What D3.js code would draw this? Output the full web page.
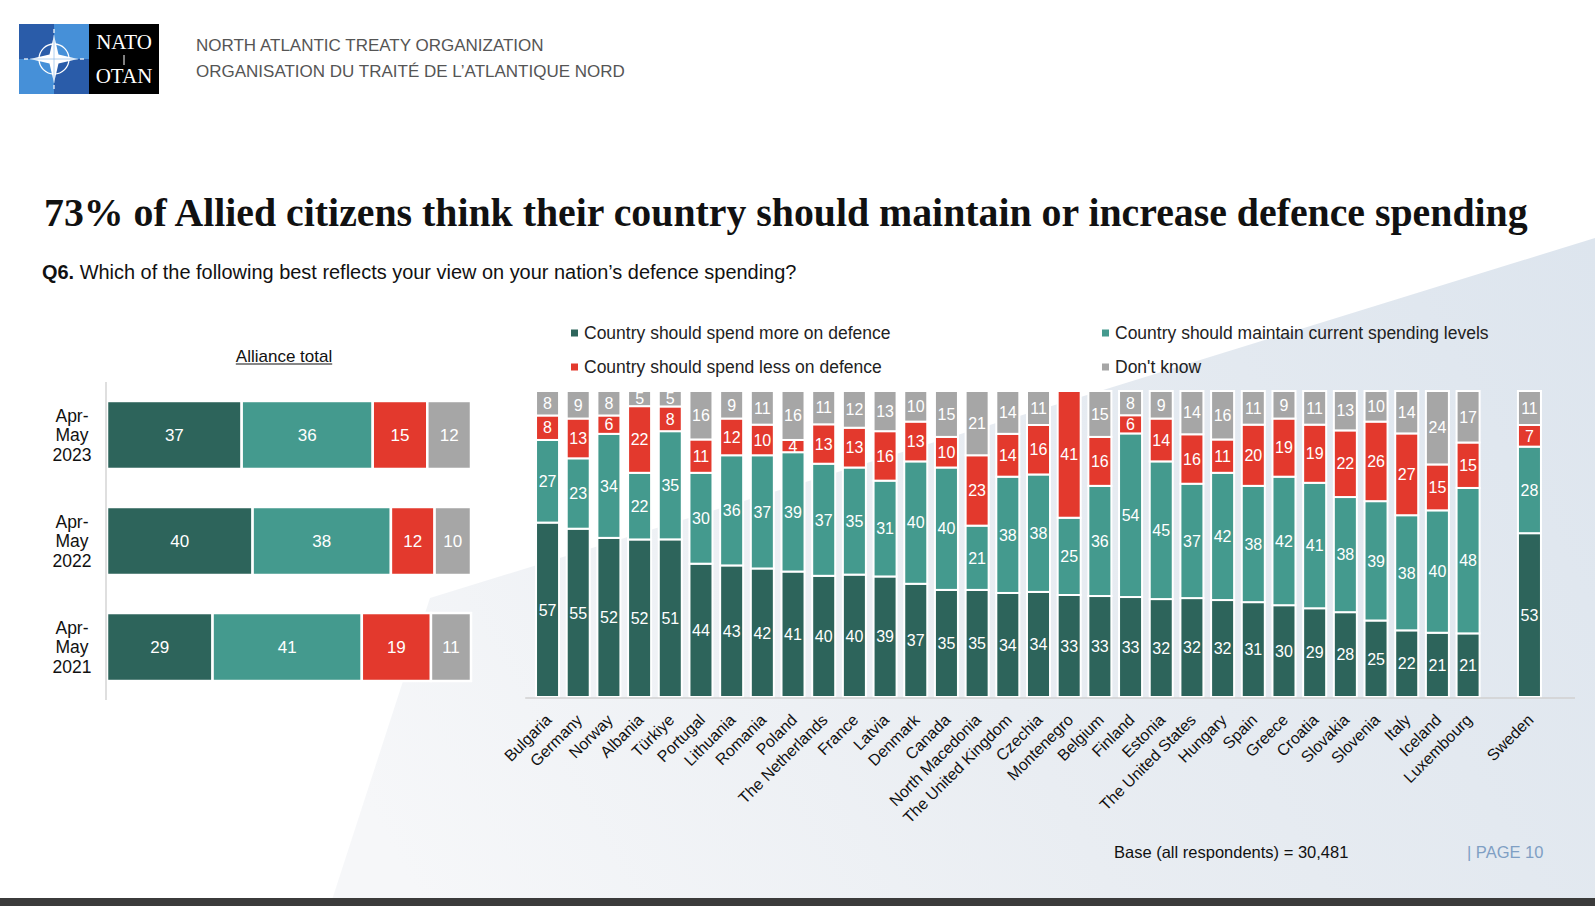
<!DOCTYPE html>
<html><head><meta charset="utf-8">
<script src="https://cdn.jsdelivr.net/npm/d3@7"></script>
<style>body{margin:0;background:#fff;} svg{display:block;}</style>
</head><body>
<svg id="c" width="1595" height="906"></svg>
<script>
// ---------------- DATA ----------------
const countries = ["Bulgaria","Germany","Norway","Albania","Türkiye","Portugal","Lithuania","Romania","Poland","The Netherlands","France","Latvia","Denmark","Canada","North Macedonia","The United Kingdom","Czechia","Montenegro","Belgium","Finland","Estonia","The United States","Hungary","Spain","Greece","Croatia","Slovakia","Slovenia","Italy","Iceland","Luxembourg","Sweden"];
const spendMore = [57,55,52,52,51,44,43,42,41,40,40,39,37,35,35,34,34,33,33,33,32,32,32,31,30,29,28,25,22,21,21,53];
const maintain  = [27,23,34,22,35,30,36,37,39,37,35,31,40,40,21,38,38,25,36,54,45,37,42,38,42,41,38,39,38,40,48,28];
const spendLess = [8,13,6,22,8,11,12,10,4,13,13,16,13,10,23,14,16,41,16,6,14,16,11,20,19,19,22,26,27,15,15,7];
const dontKnow  = [8,9,8,5,5,16,9,11,16,11,12,13,10,15,21,14,11,0,15,8,9,14,16,11,9,11,13,10,14,24,17,11];

const waves = ["Apr-|May|2023","Apr-|May|2022","Apr-|May|2021"];
const totalMore     = [37,40,29];
const totalMaintain = [36,38,41];
const totalLess     = [15,12,19];
const totalDK       = [12,10,11];

const seriesNames = ["Country should spend more on defence","Country should maintain current spending levels","Country should spend less on defence","Don't know"];
const colors = ["#2d645b","#449a8e","#e3392d","#a6a6a6"];

// ---------------- SETUP ----------------
const svg = d3.select("#c");
const defs = svg.append("defs");
const grad = defs.append("linearGradient").attr("id","bgGrad")
  .attr("gradientUnits","userSpaceOnUse").attr("x1",1595).attr("y1",240).attr("x2",420).attr("y2",900);
grad.append("stop").attr("offset","0").attr("stop-color","#dde5ee");
grad.append("stop").attr("offset","0.55").attr("stop-color","#e9edf2");
grad.append("stop").attr("offset","1").attr("stop-color","#f6f7f9");

svg.append("rect").attr("width",1595).attr("height",906).attr("fill","#ffffff");
svg.append("path").attr("d","M1595,238 L430,598 L330,906 L1595,906 Z").attr("fill","url(#bgGrad)");
svg.append("rect").attr("x",0).attr("y",898).attr("width",1595).attr("height",8).attr("fill","#3b3b3b");

// ---------------- LOGO ----------------
const logo = svg.append("g");
logo.append("rect").attr("x",19).attr("y",24).attr("width",35).attr("height",35).attr("fill","#2a5ca9");
logo.append("rect").attr("x",54).attr("y",24).attr("width",35).attr("height",35).attr("fill","#4690d8");
logo.append("rect").attr("x",19).attr("y",59).attr("width",35).attr("height",35).attr("fill","#4690d8");
logo.append("rect").attr("x",54).attr("y",59).attr("width",35).attr("height",35).attr("fill","#2a5ca9");
logo.append("rect").attr("x",89).attr("y",24).attr("width",70).attr("height",70).attr("fill","#000");
logo.append("circle").attr("cx",54).attr("cy",59).attr("r",15).attr("fill","none").attr("stroke","#fff").attr("stroke-width",1.3);
logo.append("path").attr("d","M54,35 L58.5,54.5 L78,59 L58.5,63.5 L54,83 L49.5,63.5 L30,59 L49.5,54.5 Z").attr("fill","#fff");
logo.append("path").attr("d","M54,35 L54,83 M30,59 L78,59").attr("stroke","#9cc3ea").attr("stroke-width",0.8);
[[54,29,54,33],[54,85,54,89],[24,59,28,59],[80,59,84,59]].forEach(l=>
  logo.append("line").attr("x1",l[0]).attr("y1",l[1]).attr("x2",l[2]).attr("y2",l[3]).attr("stroke","#fff").attr("stroke-width",1.2));
logo.append("text").attr("x",124).attr("y",49).attr("text-anchor","middle").attr("fill","#fff")
  .attr("font-family","Liberation Serif").attr("font-size",21).text("NATO");
logo.append("text").attr("x",124).attr("y",83).attr("text-anchor","middle").attr("fill","#fff")
  .attr("font-family","Liberation Serif").attr("font-size",21).text("OTAN");
logo.append("line").attr("x1",124).attr("x2",124).attr("y1",55).attr("y2",65).attr("stroke","#fff").attr("stroke-width",1);

svg.append("text").attr("x",196).attr("y",51).attr("fill","#555").attr("font-family","Liberation Sans").attr("font-size",17)
  .text("NORTH ATLANTIC TREATY ORGANIZATION");
svg.append("text").attr("x",196).attr("y",77).attr("fill","#555").attr("font-family","Liberation Sans").attr("font-size",17)
  .text("ORGANISATION DU TRAITÉ DE L’ATLANTIQUE NORD");

// ---------------- TITLE ----------------
const title = svg.append("text").attr("x",44).attr("y",226).attr("fill","#111")
  .attr("font-family","Liberation Serif").attr("font-weight","bold").attr("font-size",38)
  .text("73% of Allied citizens think their country should maintain or increase defence spending");
const tl = title.node().getComputedTextLength();
title.attr("font-size", Math.min(40, 38*1484/tl));

const sub = svg.append("text").attr("x",42).attr("y",279).attr("fill","#111")
  .attr("font-family","Liberation Sans").attr("font-size",18);
sub.append("tspan").attr("font-weight","bold").text("Q6.");
sub.append("tspan").text(" Which of the following best reflects your view on your nation’s defence spending?");
const sl = sub.node().getComputedTextLength();
sub.attr("font-size", 18*755/sl);

// ---------------- LEGEND ----------------
const legPos = [[575,333],[1106,333],[575,367],[1106,367]];
seriesNames.forEach((n,i)=>{
  const g = svg.append("g").attr("transform",`translate(${legPos[i][0]},${legPos[i][1]})`);
  g.append("rect").attr("x",-4).attr("y",-3.5).attr("width",7).attr("height",7).attr("fill",colors[i]);
  g.append("text").attr("x",9).attr("y",6).attr("font-family","Liberation Sans").attr("font-size",17.5).attr("fill","#222").text(n);
});

// ---------------- LEFT CHART ----------------
const leftRows = waves.map((w,i)=>({key:w, 0:totalMore[i], 1:totalMaintain[i], 2:totalLess[i], 3:totalDK[i]}));
const xL = d3.scaleLinear().domain([0,100]).range([107,471]);
const yL = d3.scaleBand().domain(waves).range([382,700]).paddingInner(0.3585).paddingOuter(0.179);
const stackL = d3.stack().keys([0,1,2,3])(leftRows);
const gL = svg.append("g");
stackL.forEach((s,si)=>{
  s.forEach(d=>{
    gL.append("rect").attr("x",xL(d[0])).attr("y",yL(d.data.key)).attr("width",xL(d[1])-xL(d[0])).attr("height",yL.bandwidth())
      .attr("fill",colors[si]).attr("stroke","#fff").attr("stroke-width",2.5);
    gL.append("text").attr("x",(xL(d[0])+xL(d[1]))/2).attr("y",yL(d.data.key)+yL.bandwidth()/2).attr("dy","0.35em")
      .attr("text-anchor","middle").attr("fill","#fff").attr("font-family","Liberation Sans").attr("font-size",17)
      .text(d[1]-d[0]);
  });
});
gL.append("line").attr("x1",xL(0)-1).attr("x2",xL(0)-1).attr("y1",yL.range()[0]).attr("y2",yL.range()[1]).attr("stroke","#d4d4d4").attr("stroke-width",1.5);
waves.forEach(w=>{
  const t = gL.append("text").attr("text-anchor","middle").attr("font-family","Liberation Sans").attr("font-size",17.5).attr("fill","#111");
  w.split("|").forEach((p,i)=>{
    t.append("tspan").attr("x",72).attr("y",yL(w)+yL.bandwidth()/2 + (i-1)*19.5).attr("dy","0.35em").text(p);
  });
});
const at = svg.append("text").attr("x",(xL(0)+xL(100))/2+ -5).attr("y",356).attr("dy","0.35em").attr("text-anchor","middle")
  .attr("font-family","Liberation Sans").attr("font-size",17).attr("fill","#111").text("Alliance total");
const atl = at.node().getComputedTextLength();
svg.append("line").attr("x1",(xL(0)+xL(100))/2-5-atl/2).attr("x2",(xL(0)+xL(100))/2-5+atl/2).attr("y1",364).attr("y2",364)
  .attr("stroke","#111").attr("stroke-width",1.2);

// ---------------- RIGHT CHART ----------------
const rows = countries.map((c,i)=>({key:c, 0:spendMore[i], 1:maintain[i], 2:spendLess[i], 3:dontKnow[i]}));
const domainR = countries.slice(0,-1).concat(["__gap__"], countries.slice(-1));
const xR = d3.scaleBand().domain(domainR).range([532.2,1544.8]).paddingInner(0.25).paddingOuter(0.125);
const yR = d3.scaleLinear().domain([0,1]).range([697,391]);
const stackR = d3.stack().keys([0,1,2,3]).offset(d3.stackOffsetExpand)(rows);
const gR = svg.append("g");
stackR.forEach((s,si)=>{
  s.forEach(d=>{
    const v = d.data[si];
    if (v<=0) return;
    gR.append("rect").attr("x",xR(d.data.key)).attr("y",yR(d[1])).attr("width",xR.bandwidth()).attr("height",yR(d[0])-yR(d[1]))
      .attr("fill",colors[si]).attr("stroke","#fff").attr("stroke-width",2);
  });
});
stackR.forEach((s,si)=>{
  s.forEach(d=>{
    const v = d.data[si];
    if (v<=0) return;
    gR.append("text").attr("x",xR(d.data.key)+xR.bandwidth()/2).attr("y",(yR(d[0])+yR(d[1]))/2).attr("dy","0.36em")
      .attr("text-anchor","middle").attr("fill","#fff").attr("font-family","Liberation Sans").attr("font-size",16).text(v);
  });
});
gR.append("line").attr("x1",xR.range()[0]-7).attr("x2",1575).attr("y1",yR(0)+1).attr("y2",yR(0)+1).attr("stroke","#d0d0d0").attr("stroke-width",1.5);
countries.forEach(c=>{
  gR.append("text").attr("transform",`translate(${xR(c)+xR.bandwidth()/2+5},${yR(0)+24}) rotate(-45)`)
    .attr("text-anchor","end").attr("font-family","Liberation Sans").attr("font-size",16).attr("fill","#111").text(c);
});

// ---------------- FOOTER ----------------
svg.append("text").attr("x",1114).attr("y",858).attr("font-family","Liberation Sans").attr("font-size",16.5).attr("fill","#111")
  .text("Base (all respondents) = 30,481");
svg.append("text").attr("x",1467).attr("y",858).attr("font-family","Liberation Sans").attr("font-size",16.5).attr("fill","#7f9fc4")
  .text("|  PAGE 10");
</script>
</body></html>
